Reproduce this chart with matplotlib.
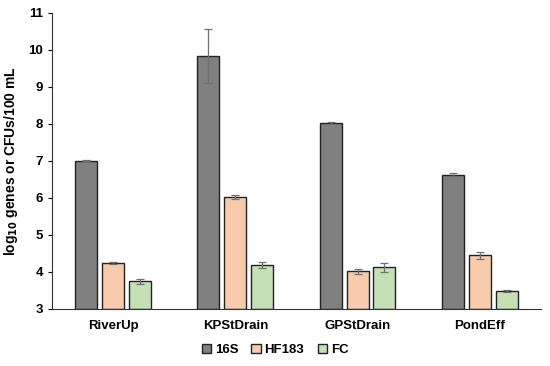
import matplotlib
matplotlib.use('Agg')
import matplotlib.pyplot as plt
import numpy as np

plt.rcParams['font.family'] = ['Liberation Sans', 'DejaVu Sans']
plt.rcParams['font.weight'] = 'bold'

sites = ['RiverUp', 'KPStDrain', 'GPStDrain', 'PondEff']
series = ['16S', 'HF183', 'FC']
vals_16s = [7.00, 9.83, 8.03, 6.63]
vals_hf183 = [4.23, 6.02, 4.02, 4.45]
vals_fc = [3.75, 4.18, 4.12, 3.48]
err_16s = [0.01, 0.72, 0.03, 0.03]
err_hf183 = [0.03, 0.05, 0.07, 0.10]
err_fc = [0.07, 0.08, 0.12, 0.02]
colors = ['#808080', '#F8CBAD', '#C5E0B4']

fig = plt.figure(figsize=(5.5, 3.66), dpi=100)
ax = fig.add_axes([0.0945, 0.156, 0.889, 0.809])

x = np.arange(len(sites))
w = 0.18
step = 0.22
for k, (v, e) in enumerate([(vals_16s, err_16s), (vals_hf183, err_hf183), (vals_fc, err_fc)]):
    pos = x + (k - 1) * step
    # bars start from the axis floor at 3
    ax.bar(pos, np.array(v) - 3, w, bottom=3, color=colors[k], edgecolor='#222222',
           linewidth=1.0, label=series[k], zorder=2)
    ax.errorbar(pos, v, yerr=e, fmt='none', ecolor='#707070', elinewidth=0.9,
                capsize=3, capthick=0.9, zorder=3)

ax.set_xlim(-0.5, 3.5)
ax.set_ylim(3, 11)
ax.set_yticks(range(3, 12))
ax.set_xticks(x)
ax.set_xticklabels(sites, fontsize=9.5, fontweight='bold')
ax.tick_params(axis='x', length=0, pad=8)
ax.tick_params(axis='y', labelsize=9.5, length=3, direction='out')
for t in ax.get_yticklabels():
    t.set_fontweight('bold')
ax.spines['top'].set_visible(False)
ax.spines['right'].set_visible(False)
ax.spines['left'].set_color('#333333')
ax.spines['bottom'].set_color('#333333')
ax.set_ylabel('log$_{\\mathbf{10}}$ genes or CFUs/100 mL', fontsize=10, fontweight='bold',
              labelpad=6)

ax.legend(loc='center', bbox_to_anchor=(0.456, -0.139), ncol=3, frameon=False,
          handlelength=0.7, handleheight=0.7, handletextpad=0.3,
          columnspacing=1.0, prop={'weight': 'bold', 'size': 9.5})

fig.savefig('out.png', dpi=100)
